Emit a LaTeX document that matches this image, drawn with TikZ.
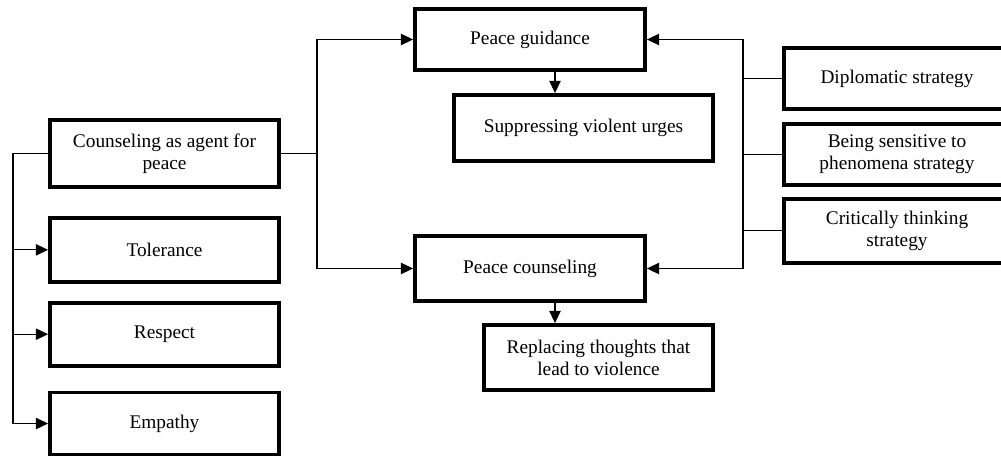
\documentclass[tikz,border=0pt]{standalone}
\usepackage{fontspec}
\setmainfont{Liberation Serif}
\usetikzlibrary{arrows.meta,positioning}

\begin{document}
\begin{tikzpicture}[x=0.02cm,y=-0.02cm,>={Triangle[length=7pt,width=6.5pt]},
                    box/.style={draw,line width=2.2pt,align=center,inner sep=2pt,
                                font=\fontsize{11}{12.5}\selectfont},
                    link/.style={line width=0.7pt}]
  \useasboundingbox (0,0) rectangle (1001,459);
  \clip (0,0) rectangle (1001,459);

  \node[box,minimum width=4.58cm,minimum height=1.34cm] (counsel) at (164.5,153.5) {Counseling as agent for\\peace};
  \node[box,minimum width=4.58cm,minimum height=1.28cm] (tolerance) [below=0.54cm of counsel] {Tolerance};
  \node[box,minimum width=4.58cm,minimum height=1.26cm] (respect) [below=0.34cm of tolerance] {Respect};
  \node[box,minimum width=4.58cm,minimum height=1.24cm] (empathy) [below=0.46cm of respect] {Empathy};

  \node[box,minimum width=4.6cm,minimum height=1.22cm] (guidance) at (530,39.5) {Peace guidance};
  \node[box,minimum width=5.18cm,minimum height=1.32cm] (suppress) at (583.5,128) {Suppressing violent urges};
  \node[box,minimum width=4.6cm,minimum height=1.3cm] (pcounsel) at (530,268.5) {Peace counseling};
  \node[box,minimum width=4.58cm,minimum height=1.3cm] (replace) at (598.5,357.5) {Replacing thoughts that\\lead to violence};

  \node[box,minimum width=4.52cm,minimum height=1.22cm] (diplomatic) at (897,78.5) {Diplomatic strategy};
  \node[box,minimum width=4.52cm,minimum height=1.22cm] (sensitive) [below=0.22cm of diplomatic] {Being sensitive to\\phenomena strategy};
  \node[box,minimum width=4.52cm,minimum height=1.28cm] (critical) [below=0.2cm of sensitive] {Critically thinking\\strategy};

  % bus lines
  \coordinate (lbus) at (13,0);
  \coordinate (mbus) at (317,0);
  \coordinate (rbus) at (743,0);
  \coordinate (drop) at (555,0);

  \draw[link] (counsel.west) -- (lbus |- counsel.west) -- (lbus |- empathy.west);
  \foreach \n in {tolerance,respect,empathy}
    \draw[link,->] (lbus |- \n.west) -- (\n.west);

  \draw[link] (counsel.east) -- (mbus |- counsel.east);
  \draw[link,->] (mbus |- counsel.east) |- (guidance.west);
  \draw[link,->] (mbus |- counsel.east) |- (pcounsel.west);

  \foreach \n in {diplomatic,sensitive,critical}
    \draw[link] (\n.west) -- (rbus |- \n.west);
  \draw[link] (rbus |- diplomatic.west) -- (rbus |- critical.west);
  \draw[link,->] (rbus |- diplomatic.west) |- (guidance.east);
  \draw[link,->] (rbus |- critical.west) |- (pcounsel.east);

  \draw[link,->] (drop |- guidance.south) -- (drop |- suppress.north);
  \draw[link,->] (drop |- pcounsel.south) -- (drop |- replace.north);
\end{tikzpicture}
\end{document}
